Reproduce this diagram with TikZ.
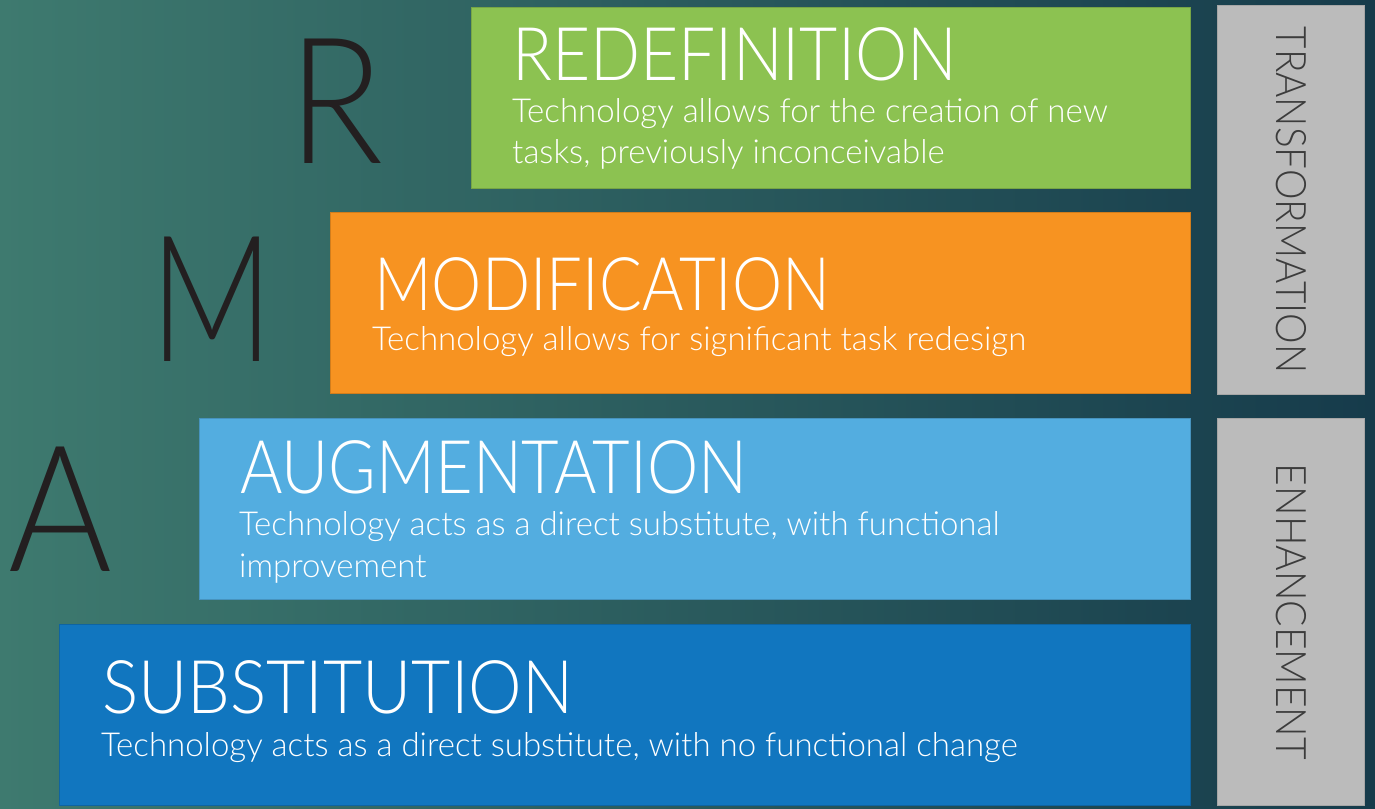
\documentclass[tikz,border=0pt]{standalone}
\usepackage{fontspec}
\setmainfont{Lato}[UprightFont={* Light}]
\definecolor{bgL}{HTML}{3E7A6F}
\definecolor{bgM}{HTML}{2E6563}
\definecolor{bgR}{HTML}{163B4B}
\definecolor{cGreen}{HTML}{8CC251}
\definecolor{cOrange}{HTML}{F79321}
\definecolor{cLight}{HTML}{53ADE0}
\definecolor{cBlue}{HTML}{1176BF}
\definecolor{cGray}{HTML}{BBBBBB}
\definecolor{cGrayText}{HTML}{3C3C3C}
\definecolor{cDark}{HTML}{231F20}
\newcommand{\hsx}[2]{\scalebox{#1}[1]{#2}}
\tikzset{
  level/.style={draw=#1!85!black, line width=0.8pt, fill=#1, anchor=north west, inner sep=0pt, outer sep=0pt},
  sidebox/.style={draw=gray!70, line width=0.8pt, fill=cGray, anchor=north west, inner sep=0pt},
  head/.style={anchor=base west, inner sep=0pt, text=white, font=\fontsize{74}{74}\selectfont},
  desc/.style={anchor=base west, inner sep=0pt, text=white, font=\fontsize{33}{33}\selectfont},
  bigletter/.style={anchor=base west, inner sep=0pt, text=cDark, font=\fontsize{176}{176}\selectfont},
  vlabel/.style={rotate=-90, inner sep=0pt, text=cGrayText, font=\fontsize{42}{42}\selectfont}
}
\begin{document}
\begin{tikzpicture}[x=1pt,y=-1pt]
\useasboundingbox (0,0) rectangle (1375,808);
\shade[left color=bgL, middle color=bgM, right color=bgR] (0,0) rectangle (1375,808);
% level boxes
\node[level=cGreen, minimum width=719pt, minimum height=181pt] (redef) at (471,7) {};
\node[level=cOrange, minimum width=860pt, minimum height=181pt] (modif) at (330,212) {};
\node[level=cLight, minimum width=991pt, minimum height=181pt] (augm) at (199,418) {};
\node[level=cBlue, minimum width=1131pt, minimum height=181pt] (subst) at (59,624) {};
% side boxes
\node[sidebox, minimum width=147pt, minimum height=389pt] (trans) at (1217,5) {};
\node[sidebox, minimum width=147pt, minimum height=387pt] (enh) at (1217,418) {};
\node[vlabel] (transT) at (trans.center) {\hsx{0.92}{TRANSFORMATION}};
\node[vlabel] (enhT) at (enh.center) {\hsx{0.93}{ENHANCEMENT}};
% big letters
\node[bigletter] (R) at (288,163) {\hsx{0.89}{R}};
\node[bigletter] (M) at (150,361) {\hsx{0.77}{M}};
\node[bigletter] (A) at (8,571) {\hsx{0.9}{A}};
% headings
\node[head] (redefH) at (512,81) {\hsx{0.89}{REDEFINITION}};
\node[head] (modifH) at (374,310) {\hsx{0.857}{MODIFICATION}};
\node[head] (augmH) at (240,493) {\hsx{0.876}{AUGMENTATION}};
\node[head] (substH) at (102,713) {\hsx{0.915}{SUBSTITUTION}};
% descriptions
\node[desc] (redefD1) at (512,122) {Technology allows for the creation of new};
\node[desc] (redefD2) at (512,163) {tasks, previously inconceivable};
\node[desc] (modifD) at (372,350) {Technology allows for significant task redesign};
\node[desc] (augmD1) at (239,535) {Technology acts as a direct substitute, with functional};
\node[desc] (augmD2) at (239,577) {improvement};
\node[desc] (substD) at (101,756) {Technology acts as a direct substitute, with no functional change};
\end{tikzpicture}
\end{document}
